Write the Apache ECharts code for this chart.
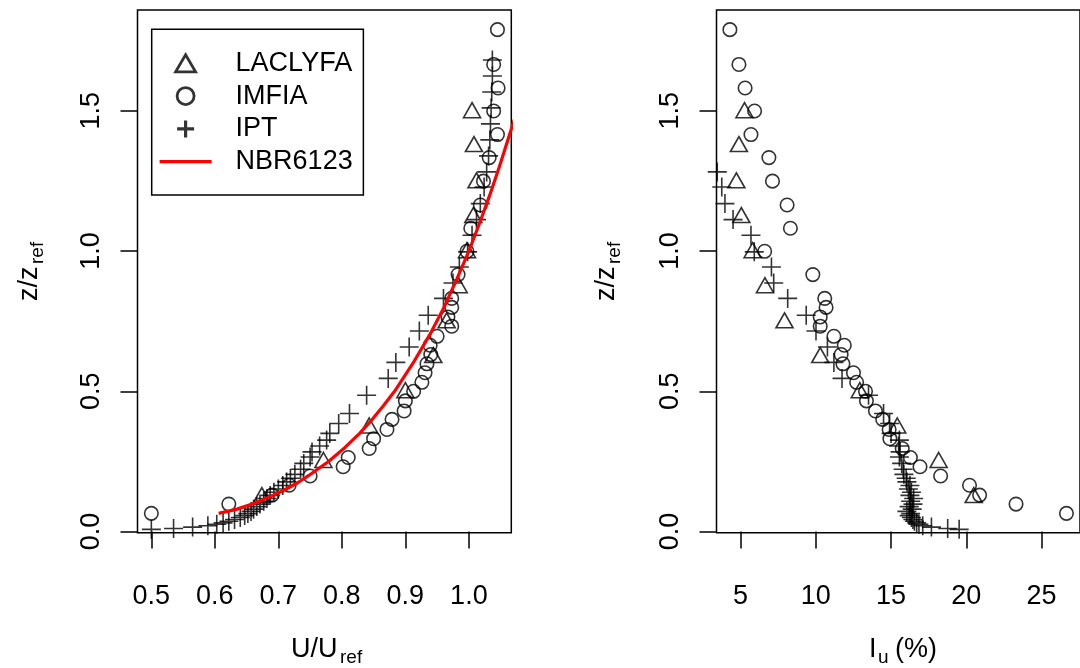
<!DOCTYPE html>
<html><head><meta charset="utf-8">
<script src="https://cdn.jsdelivr.net/npm/echarts@6/dist/echarts.min.js"></script>
<style>html,body{margin:0;padding:0;background:#fff}#c{width:1080px;height:668px}</style>
</head><body><div id="c"></div>
<script>
// ---- tick labels / categories ----
const legendNames = ['LACLYFA', 'IMFIA', 'IPT', 'NBR6123'];
const zTicks = [0.0, 0.5, 1.0, 1.5];
const uTicks = [0.5, 0.6, 0.7, 0.8, 0.9, 1.0];
const iTicks = [5, 10, 15, 20, 25];

// ---- LACLYFA ----
const laclyfaZ = [0.130, 0.255, 0.378, 0.504, 0.629, 0.753, 0.878, 1.003, 1.128, 1.252, 1.381, 1.502];
const laclyfaU = [0.674, 0.771, 0.843, 0.900, 0.944, 0.965, 0.984, 0.997, 1.007, 1.012, 1.008, 1.005];
const laclyfaI = [20.49, 18.16, 15.41, 12.92, 10.29, 7.92, 6.62, 5.80, 5.05, 4.72, 4.89, 5.26];

// ---- IMFIA ----
const imfiaZ = [0.065, 0.098, 0.130, 0.165, 0.198, 0.231, 0.264, 0.296, 0.331, 0.364, 0.400, 0.430, 0.466, 0.500, 0.532, 0.566, 0.598, 0.631, 0.664, 0.696, 0.732, 0.765, 0.799, 0.831, 0.916, 0.999, 1.081, 1.164, 1.249, 1.333, 1.415, 1.499, 1.581, 1.665, 1.789];
const imfiaU = [0.500, 0.622, 0.690, 0.717, 0.750, 0.802, 0.810, 0.843, 0.850, 0.871, 0.879, 0.898, 0.900, 0.913, 0.926, 0.931, 0.934, 0.940, 0.939, 0.950, 0.973, 0.967, 0.973, 0.973, 0.983, 0.997, 1.003, 1.018, 1.023, 1.032, 1.045, 1.039, 1.046, 1.039, 1.045];
const imfiaI = [26.65, 23.30, 20.88, 20.21, 18.29, 16.92, 16.28, 15.74, 14.92, 14.87, 14.44, 13.96, 13.36, 13.30, 12.71, 12.50, 11.80, 11.68, 11.89, 11.20, 10.29, 10.29, 10.68, 10.59, 9.80, 6.60, 8.31, 8.09, 7.12, 6.88, 5.69, 5.93, 5.30, 4.89, 4.29];

// ---- IPT ---- (null = outside the visible range of the right panel)
const iptZ = [0.008, 0.011, 0.016, 0.021, 0.026, 0.031, 0.037, 0.043, 0.050, 0.057, 0.064, 0.072, 0.080, 0.089, 0.098, 0.108, 0.118, 0.129, 0.140, 0.152, 0.164, 0.177, 0.190, 0.204, 0.222, 0.243, 0.266, 0.284, 0.305, 0.326, 0.350, 0.385, 0.421, 0.486, 0.546, 0.603, 0.658, 0.715, 0.771, 0.831, 0.886, 0.943, 0.997, 1.056, 1.112, 1.169, 1.228, 1.282, 1.339, 1.396, 1.453, 1.510, 1.567, 1.624, 1.681];
const iptU = [0.500, 0.535, 0.565, 0.589, 0.603, 0.613, 0.622, 0.631, 0.640, 0.647, 0.652, 0.657, 0.661, 0.666, 0.671, 0.677, 0.682, 0.687, 0.693, 0.700, 0.707, 0.713, 0.719, 0.726, 0.735, 0.740, 0.750, 0.753, 0.765, 0.776, 0.781, 0.795, 0.812, 0.839, 0.873, 0.885, 0.906, 0.922, 0.936, 0.960, 0.975, 0.985, 0.998, 1.005, 1.012, 1.018, 1.024, 1.028, 1.031, 1.033, 1.034, 1.035, 1.036, 1.037, 1.037];
const iptI = [19.52, 18.76, 17.68, 17.10, 16.85, 16.70, 16.55, 16.45, 16.35, 16.20, 16.30, 16.05, 16.40, 16.20, 16.45, 16.30, 16.50, 16.25, 16.35, 16.15, 16.25, 16.05, 16.00, 15.85, 15.80, 15.70, 15.55, 15.60, 15.50, 15.55, 15.00, 14.90, 14.50, 13.50, 11.74, 11.20, 10.77, 10.01, 9.36, 8.13, 7.20, 7.05, 5.91, 5.69, 4.50, 3.96, 3.75, 3.45, null, null, null, null, null, null, null];

// ---- NBR6123 curve ----
const nbrZ = [0.065, 0.080, 0.100, 0.125, 0.150, 0.175, 0.200, 0.250, 0.300, 0.350, 0.400, 0.450, 0.500, 0.600, 0.700, 0.800, 0.900, 1.000, 1.100, 1.200, 1.300, 1.400, 1.500];
const nbrU = [0.606, 0.635, 0.661, 0.688, 0.711, 0.731, 0.748, 0.779, 0.805, 0.828, 0.848, 0.866, 0.883, 0.912, 0.938, 0.961, 0.981, 1.000, 1.017, 1.033, 1.048, 1.062, 1.076];

function pairs(xs, ys) {
  const out = [];
  for (let i = 0; i < xs.length; i++) {
    if (xs[i] !== null && ys[i] !== null) out.push([xs[i], ys[i]]);
  }
  return out;
}

const FONT = "'Liberation Sans', Arial, Helvetica, sans-serif";
const BLACK = '#000';
const RED = '#ff0000';
const CROSS = 'path://M0,10L20,10M10,0L10,20';
const hollow = { color: 'rgba(0,0,0,0)', borderColor: BLACK, borderWidth: 1.6 };

function scatter(name, data, idx, symbol, size) {
  return {
    type: 'scatter', name: name, data: data,
    xAxisIndex: idx, yAxisIndex: idx,
    symbol: symbol, symbolSize: size, clip: true,
    itemStyle: hollow, silent: true,
    emphasis: { disabled: true }
  };
}

function xAxisOf(idx, min, max, ticks, fmt) {
  return {
    type: 'value', gridIndex: idx, min: min, max: max,
    axisLine: { show: false }, splitLine: { show: false },
    axisTick: { show: true, inside: false, length: 17, customValues: ticks, lineStyle: { color: BLACK, width: 1.5 } },
    axisLabel: { customValues: ticks, formatter: fmt, color: BLACK, fontSize: 27, fontFamily: FONT, margin: 50 }
  };
}
function yAxisOf(idx) {
  return {
    type: 'value', gridIndex: idx, min: -0.004, max: 1.859,
    axisLine: { show: false }, splitLine: { show: false },
    axisTick: { show: true, inside: false, length: 17, customValues: zTicks, lineStyle: { color: BLACK, width: 1.5 } },
    axisLabel: { customValues: zTicks, formatter: v => v.toFixed(1), color: BLACK, fontSize: 27, fontFamily: FONT, margin: 32, rotate: 90 }
  };
}

function txt(text, x, y, size, align) {
  return { type: 'text', x: x, y: y, silent: true,
    style: { text: text, fill: BLACK, fontSize: size, fontFamily: FONT,
      textAlign: align || 'left', align: align || 'left', textVerticalAlign: 'middle', verticalAlign: 'middle' } };
}
function subTitle(main, sub, tail, cx, cy, rot, mainW, subW) {
  const total = mainW + subW + (tail ? 48 : 0);
  const x0 = -total / 2;
  const kids = [txt(main, x0, 0, 27), txt(sub, x0 + mainW + 1, 8, 19)];
  if (tail) kids.push(txt(tail, x0 + mainW + subW + 6, 0, 27));
  return { type: 'group', x: cx, y: cy, rotation: rot, children: kids };
}

const option = {
  animation: false,
  backgroundColor: '#fff',
  textStyle: { fontFamily: FONT },
  grid: [
    { left: 137.5, right: 568.7, top: 10, bottom: 135.3, show: true, borderColor: BLACK, borderWidth: 1.5, backgroundColor: 'rgba(0,0,0,0)' },
    { left: 716.5, right: -9.5, top: 10, bottom: 135.3, show: true, borderColor: BLACK, borderWidth: 1.5, backgroundColor: 'rgba(0,0,0,0)' }
  ],
  xAxis: [
    xAxisOf(0, 0.4782, 1.0668, uTicks, v => v.toFixed(1)),
    xAxisOf(1, 3.40, 27.55, iTicks, v => String(Math.round(v)))
  ],
  yAxis: [yAxisOf(0), yAxisOf(1)],
  legend: {
    show: true, orient: 'vertical', left: 151.7, top: 29.3,
    selectedMode: false, symbolKeepAspect: true,
    itemWidth: 52, itemHeight: 17, itemGap: 5.8,
    padding: [20.5, 10.7, 19.8, 6.3],
    borderColor: BLACK, borderWidth: 1.5, backgroundColor: '#fff',
    textStyle: { color: BLACK, fontSize: 27, fontFamily: FONT, lineHeight: 27, padding: [0, 0, 0, 19] },
    data: [
      { name: legendNames[0], icon: 'path://M10,0L20,17L0,17Z', itemStyle: { color: 'rgba(0,0,0,0)', borderColor: BLACK, borderWidth: 2.8 } },
      { name: legendNames[1], icon: 'path://M7,0A7,7,0,1,1,6.99,0Z', itemStyle: { color: 'rgba(0,0,0,0)', borderColor: BLACK, borderWidth: 2.8 } },
      { name: legendNames[2], icon: CROSS, itemStyle: { color: 'rgba(0,0,0,0)', borderColor: BLACK, borderWidth: 3.2 } },
      { name: legendNames[3], itemStyle: { color: 'rgba(0,0,0,0)', borderColor: 'rgba(0,0,0,0)', borderWidth: 0, opacity: 0 },
        lineStyle: { color: RED, width: 3.2, opacity: 1 } }
    ]
  },
  series: [
    scatter(legendNames[1], pairs(imfiaU, imfiaZ), 0, 'circle', 13.5),
    scatter(legendNames[0], pairs(laclyfaU, laclyfaZ), 0, 'triangle', [17, 15]),
    scatter(legendNames[2], pairs(iptU, iptZ), 0, CROSS, 19),
    {
      type: 'line', name: legendNames[3], data: pairs(nbrU, nbrZ),
      xAxisIndex: 0, yAxisIndex: 0, symbol: 'none', showSymbol: false, clip: true,
      lineStyle: { color: RED, width: 3.2 }, itemStyle: { color: RED },
      silent: true, z: 3
    },
    scatter(legendNames[1], pairs(imfiaI, imfiaZ), 1, 'circle', 13.5),
    scatter(legendNames[0], pairs(laclyfaI, laclyfaZ), 1, 'triangle', [17, 15]),
    scatter(legendNames[2], pairs(iptI, iptZ), 1, CROSS, 19)
  ],
  graphic: [
    subTitle('z/z', 'ref', null, 30, 271, Math.PI / 2, 36, 24),
    subTitle('z/z', 'ref', null, 607, 271, Math.PI / 2, 36, 24),
    subTitle('U/U', 'ref', null, 327, 650, 0, 48, 24),
    subTitle('I', 'u', '(%)', 903, 650, 0, 8, 12)
  ]
};

const chart = echarts.init(document.getElementById('c'), null, { renderer: 'canvas' });
chart.setOption(option);
</script>
</body></html>
